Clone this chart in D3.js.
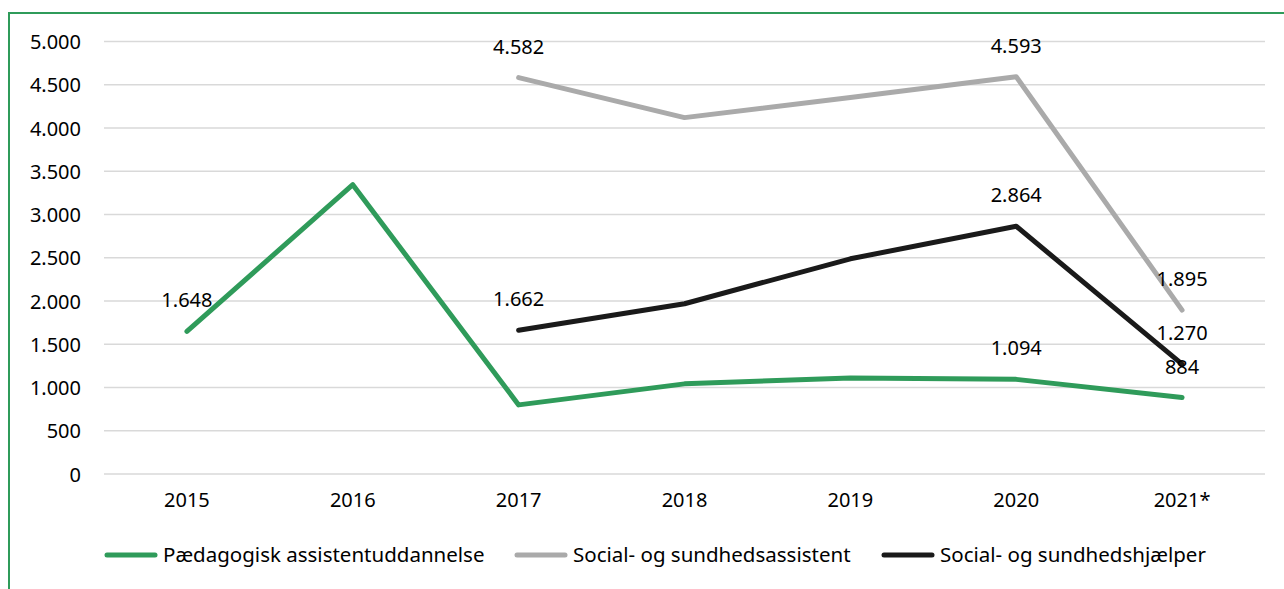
<!DOCTYPE html>
<html><head><meta charset="utf-8">
<script src="https://cdn.jsdelivr.net/npm/d3@7"></script>
<style>body{margin:0;background:#fff;} svg{display:block;} text{font-family:"Noto Sans",sans-serif;fill:#000;}</style>
</head><body>
<svg id="c" width="1284" height="589"></svg>
<script>
const years = ["2015","2016","2017","2018","2019","2020","2021*"];
const paedagogisk = [1648, 3345, 799, 1042, 1111, 1094, 884];
const sosuAssistent = [null, null, 4582, 4120, 4352, 4593, 1895];
const sosuHjaelper = [null, null, 1662, 1968, 2488, 2864, 1270];
const yTicks = [0,500,1000,1500,2000,2500,3000,3500,4000,4500,5000];
const seriesNames = ["Pædagogisk assistentuddannelse","Social- og sundhedsassistent","Social- og sundhedshjælper"];
const seriesColors = ["#2f9b5a","#aaaaaa","#1a1a1a"];
const labelled = [[0,5,6],[2,5,6],[2,5,6]];

const svg = d3.select("#c");
// frame
svg.append("rect").attr("x",9).attr("y",13).attr("width",1400).attr("height",700)
  .attr("fill","none").attr("stroke","#2f9b5a").attr("stroke-width",2);

const x = d3.scaleBand().domain(years).range([104,1265]);
const y = d3.scaleLinear().domain([0,5000]).range([474,41.5]);
const fmt = v => d3.format(",")(v).replace(/,/g,".");
const fs = 20;

svg.append("g").selectAll("line").data(yTicks).join("line")
  .attr("x1",104).attr("x2",1265).attr("y1",d=>y(d)).attr("y2",d=>y(d))
  .attr("stroke","#d9d9d9").attr("stroke-width",1.5);

const yAxis = d3.axisLeft(y).tickValues(yTicks).tickFormat(fmt).tickSize(0).tickPadding(0);
const ya = svg.append("g").attr("transform","translate(81,0)").call(yAxis);
ya.select(".domain").remove();
ya.selectAll("text").attr("font-size",fs).attr("font-family","Noto Sans").attr("fill","#000").attr("dy","0.35em");

const xAxis = d3.axisBottom(x).tickSize(0).tickPadding(0);
const xa = svg.append("g").attr("transform","translate(0,493)").call(xAxis);
xa.select(".domain").remove();
xa.selectAll("text").attr("font-size",fs).attr("font-family","Noto Sans").attr("fill","#000").attr("dy","0.71em");

const data = [paedagogisk, sosuAssistent, sosuHjaelper];
const line = d3.line().defined(d=>d[1]!=null).x(d=>x(d[0])+x.bandwidth()/2).y(d=>y(d[1]));
data.forEach((vals,i)=>{
  const pts = years.map((yr,j)=>[yr,vals[j]]);
  svg.append("path").attr("d",line(pts)).attr("fill","none")
    .attr("stroke",seriesColors[i]).attr("stroke-width",5)
    .attr("stroke-linejoin","round").attr("stroke-linecap","round");
});
data.forEach((vals,i)=>{
  labelled[i].forEach(j=>{
    svg.append("text").attr("x",x(years[j])+x.bandwidth()/2).attr("y",y(vals[j])-31)
      .attr("text-anchor","middle").attr("dy","0.35em").attr("font-size",fs).text(fmt(vals[j]));
  });
});

// legend
const legX = [105,515,882];
seriesNames.forEach((n,i)=>{
  svg.append("line").attr("x1",legX[i]+2).attr("x2",legX[i]+50).attr("y1",555).attr("y2",555)
    .attr("stroke",seriesColors[i]).attr("stroke-width",5).attr("stroke-linecap","round");
  svg.append("text").attr("x",legX[i]+58).attr("y",555).attr("dy","0.35em").attr("font-size",20.5).text(n);
});
</script>
</body></html>
